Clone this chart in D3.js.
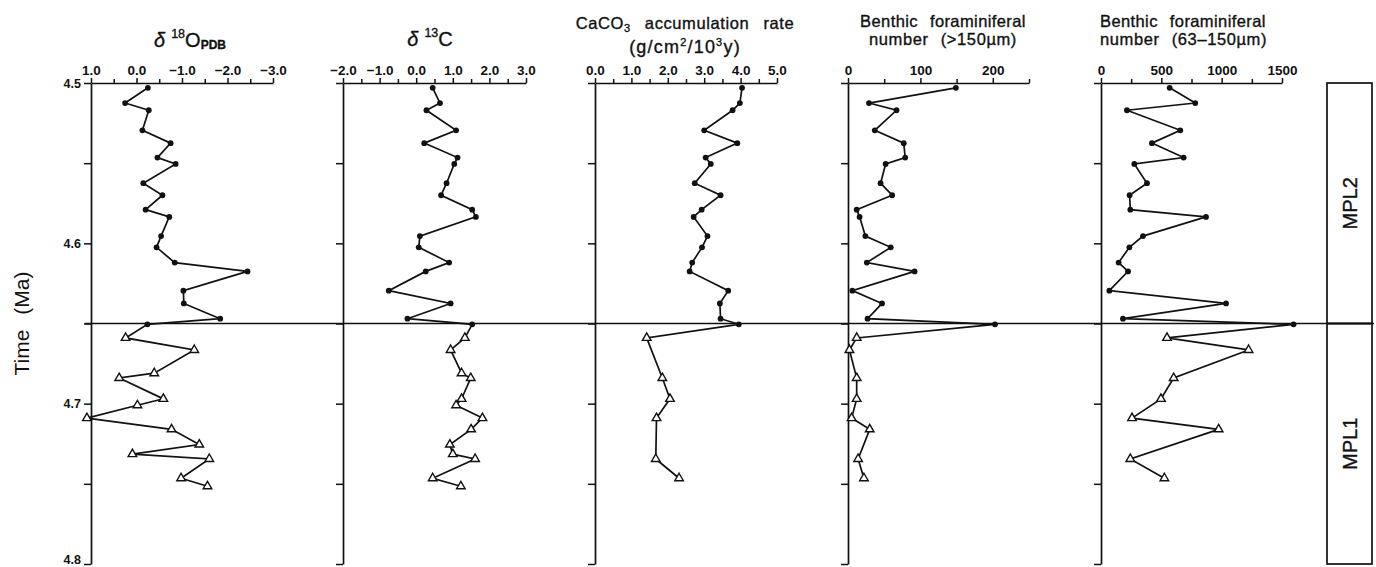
<!DOCTYPE html>
<html>
<head>
<meta charset="utf-8">
<script src="https://cdn.jsdelivr.net/npm/d3@7/dist/d3.min.js"></script>
<style>
  html, body { margin: 0; padding: 0; background: #fff; }
  svg { display: block; }
  text { font-family: "Liberation Sans", Arial, sans-serif; fill: #111; }
  .ttl { stroke: #111; stroke-width: 0.35; }
</style>
</head>
<body>
<svg id="chart" width="1376" height="567"></svg>
<script>
// ---------------- DATA ----------------
const timesUpper = [4.503, 4.5125, 4.517, 4.5295, 4.5375, 4.5465, 4.5505, 4.5625, 4.570, 4.579,
                    4.5835, 4.5955, 4.6025, 4.612, 4.6175, 4.6295, 4.6375, 4.647, 4.6505];
const timesLower = [4.659, 4.6665, 4.681, 4.684, 4.697, 4.701, 4.709, 4.716, 4.7255, 4.7315,
                    4.7345, 4.7465, 4.7515];

const d18OUpper = [-0.25, 0.25, -0.27, -0.13, -0.75, -0.46, -0.86, -0.15, -0.57, -0.20,
                   -0.72, -0.54, -0.44, -0.84, -2.44, -1.03, -1.04, -1.84, -0.24];
const d18OLower = [0.24, -1.27, -0.39, 0.38, -0.59, -0.02, 1.09, -0.77, -1.38, 0.09,
                   -1.60, -0.98, -1.56];

const d13CUpper = [0.45, 0.65, 0.28, 1.09, 0.22, 1.13, 1.04, 0.83, 0.68, 1.53,
                   1.63, 0.10, 0.07, 0.90, 0.26, -0.75, 0.94, -0.24, 1.53];
const d13CLower = [1.33, 0.94, 1.24, 1.49, 1.24, 1.09, 1.81, 1.50, 0.92, 1.00,
                   1.61, 0.45, 1.22];

const caco3Upper = [4.04, 3.98, 3.78, 3.00, 3.91, 3.04, 3.18, 2.74, 3.45, 2.93,
                    2.71, 3.09, 2.94, 2.67, 2.60, 3.66, 3.43, 3.45, 3.95];
const caco3Lower = [1.42, null, null, 1.85, 2.06, null, 1.69, null, null, null,
                    1.67, 2.31, null];

const bf150Upper = [149, 29, 67, 37, 77, 79, 52, 45, 61, 12,
                    16, 24, 59, 26, 92, 6, 47, 27, 203];
const bf150Lower = [12, 2, null, 12, 12, null, 5, 30, null, null,
                    14, 22, null];

const bf63Upper = [569, 781, 215, 657, 422, 685, 276, 381, 237, 243,
                   870, 348, 235, 146, 224, 69, 1036, 182, 1596];
const bf63Lower = [547, 1223, null, 602, 497, null, 257, 975, null, null,
                   243, 525, null];

const timeTicks = [4.5, 4.55, 4.6, 4.65, 4.7, 4.75, 4.8];
const timeLabels = [4.5, 4.6, 4.7, 4.8];
const boundaryTime = 4.65;
const zones = [
  { name: "MPL2", from: 4.5, to: 4.65 },
  { name: "MPL1", from: 4.65, to: 4.8 }
];

// ---------------- LAYOUT ----------------
const svg = d3.select("#chart");
const y = d3.scaleLinear().domain([4.5, 4.8]).range([83, 564]);

const panels = [
  { upper: d18OUpper, lower: d18OLower, domain: [1, -3], range: [91, 273],
    major: [1, 0, -1, -2, -3], minor: [0.5, -0.5, -1.5, -2.5], fmt: d3.format(".1f") },
  { upper: d13CUpper, lower: d13CLower, domain: [-2, 3], range: [343, 526],
    major: [-2, -1, 0, 1, 2, 3], minor: [-1.5, -0.5, 0.5, 1.5, 2.5], fmt: d3.format(".1f") },
  { upper: caco3Upper, lower: caco3Lower, domain: [0, 5], range: [595, 777],
    major: [0, 1, 2, 3, 4, 5], minor: [0.5, 1.5, 2.5, 3.5, 4.5], fmt: d3.format(".1f") },
  { upper: bf150Upper, lower: bf150Lower, domain: [0, 250], range: [848, 1029],
    major: [0, 100, 200], minor: [50, 150, 250], fmt: d3.format("d") },
  { upper: bf63Upper, lower: bf63Lower, domain: [0, 1500], range: [1101, 1282],
    major: [0, 500, 1000, 1500], minor: [250, 750, 1250], fmt: d3.format("d") }
];

// boundary line across the figure
svg.append("line")
  .attr("x1", 85).attr("x2", 1374)
  .attr("y1", y(boundaryTime)).attr("y2", y(boundaryTime))
  .attr("stroke", "#111").attr("stroke-width", 1.7);

panels.forEach((p, i) => {
  const x = d3.scaleLinear().domain(p.domain).range(p.range);
  const g = svg.append("g");

  const top = g.append("g").attr("transform", `translate(0,${y(4.5)})`)
    .call(d3.axisTop(x).tickValues(p.major).tickFormat(p.fmt)
      .tickSizeInner(5).tickSizeOuter(0).tickPadding(3));
  g.append("g").attr("transform", `translate(0,${y(4.5)})`)
    .call(d3.axisTop(x).tickValues(p.minor).tickFormat("").tickSizeInner(4).tickSizeOuter(0))
    .select(".domain").remove();

  const left = g.append("g").attr("transform", `translate(${p.range[0]},0)`)
    .call(d3.axisLeft(y).tickValues(timeTicks)
      .tickFormat(d => (i === 0 && timeLabels.includes(d)) ? d3.format(".1f")(d) : "")
      .tickSizeInner(7).tickSizeOuter(0).tickPadding(3));

  g.selectAll(".domain").attr("stroke", "#111").attr("stroke-width", 1.7);
  g.selectAll(".tick line").attr("stroke", "#111").attr("stroke-width", 1.5);
  top.selectAll("text").attr("font-size", 13.5).attr("font-weight", "bold")
    .attr("font-family", "Liberation Sans, Arial, sans-serif").attr("fill", "#111");
  left.selectAll("text").attr("font-size", 12.5).attr("font-weight", "bold")
    .attr("font-family", "Liberation Sans, Arial, sans-serif").attr("fill", "#111")
    .attr("dy", d => d === 4.8 ? "-0.05em" : "0.32em");

  const up = p.upper.map((v, k) => ({ t: timesUpper[k], v })).filter(d => d.v != null);
  const lo = p.lower.map((v, k) => ({ t: timesLower[k], v })).filter(d => d.v != null);
  const all = up.concat(lo);
  const line = d3.line().x(d => x(d.v)).y(d => y(d.t));
  g.append("path").datum(all).attr("d", line)
    .attr("fill", "none").attr("stroke", "#111").attr("stroke-width", 1.7);
  g.selectAll("circle.pt").data(up).join("circle")
    .attr("cx", d => x(d.v)).attr("cy", d => y(d.t)).attr("r", 2.9).attr("fill", "#111");
  const tri = d3.symbol().type(d3.symbolTriangle).size(32);
  g.selectAll("path.tri").data(lo).join("path")
    .attr("transform", d => `translate(${x(d.v)},${y(d.t)})`)
    .attr("d", tri).attr("fill", "#fff").attr("stroke", "#111").attr("stroke-width", 1.4);
});

// ---------------- TITLES ----------------
const t1 = svg.append("text").attr("class", "ttl").attr("x", 190).attr("y", 47)
  .attr("text-anchor", "middle").attr("font-size", 20);
t1.append("tspan").text("δ").attr("font-style", "italic");
t1.append("tspan").text("18").attr("font-size", 12.5).attr("dx", 6).attr("dy", -9);
t1.append("tspan").text("O").attr("dy", 9);
t1.append("tspan").text("PDB").attr("font-size", 12).attr("font-weight", "bold").attr("dy", 2);

const t2 = svg.append("text").attr("class", "ttl").attr("x", 430).attr("y", 46)
  .attr("text-anchor", "middle").attr("font-size", 20);
t2.append("tspan").text("δ").attr("font-style", "italic");
t2.append("tspan").text("13").attr("font-size", 12.5).attr("dx", 6).attr("dy", -9);
t2.append("tspan").text("C").attr("dy", 9);

const t3 = svg.append("text").attr("class", "ttl").attr("x", 685).attr("y", 29)
  .attr("text-anchor", "middle").attr("font-size", 16.5).attr("letter-spacing", 0.6)
  .attr("word-spacing", 9);
t3.append("tspan").text("CaCO");
t3.append("tspan").text("3").attr("font-size", 11).attr("dy", 3);
t3.append("tspan").text(" accumulation rate").attr("dy", -3);
const t3b = svg.append("text").attr("class", "ttl").attr("x", 685).attr("y", 53)
  .attr("text-anchor", "middle").attr("font-size", 18).attr("letter-spacing", 1.2);
t3b.append("tspan").text("(g/cm");
t3b.append("tspan").text("2").attr("font-size", 11).attr("dy", -7);
t3b.append("tspan").text("/10").attr("dy", 7);
t3b.append("tspan").text("3").attr("font-size", 11).attr("dy", -7);
t3b.append("tspan").text("y)").attr("dy", 7);

const benthic = [
  { x: 943, anchor: "middle", l1: "Benthic foraminiferal", l2: "number (>150µm)" },
  { x: 1100, anchor: "start", l1: "Benthic foraminiferal", l2: "number (63–150µm)" }
];
benthic.forEach(b => {
  svg.append("text").attr("class", "ttl").attr("x", b.x).attr("y", 27)
    .attr("text-anchor", b.anchor).attr("font-size", 16.5).attr("letter-spacing", 0.4)
    .attr("word-spacing", 7).text(b.l1);
  svg.append("text").attr("class", "ttl").attr("x", b.x).attr("y", 45)
    .attr("text-anchor", b.anchor).attr("font-size", 16.5).attr("letter-spacing", 0.6)
    .attr("word-spacing", 7).text(b.l2);
});

// y axis title
svg.append("text").attr("transform", `translate(29,${y(4.65)}) rotate(-90)`)
  .attr("text-anchor", "middle").attr("font-size", 21).attr("word-spacing", 9).text("Time (Ma)");

// zone box
zones.forEach(z => {
  svg.append("rect").attr("x", 1327).attr("width", 45)
    .attr("y", y(z.from)).attr("height", y(z.to) - y(z.from))
    .attr("fill", "none").attr("stroke", "#111").attr("stroke-width", 1.7);
  svg.append("text").attr("class", "ttl")
    .attr("transform", `translate(1357,${(y(z.from) + y(z.to)) / 2}) rotate(-90)`)
    .attr("text-anchor", "middle").attr("font-size", 20).text(z.name);
});
</script>
</body>
</html>
